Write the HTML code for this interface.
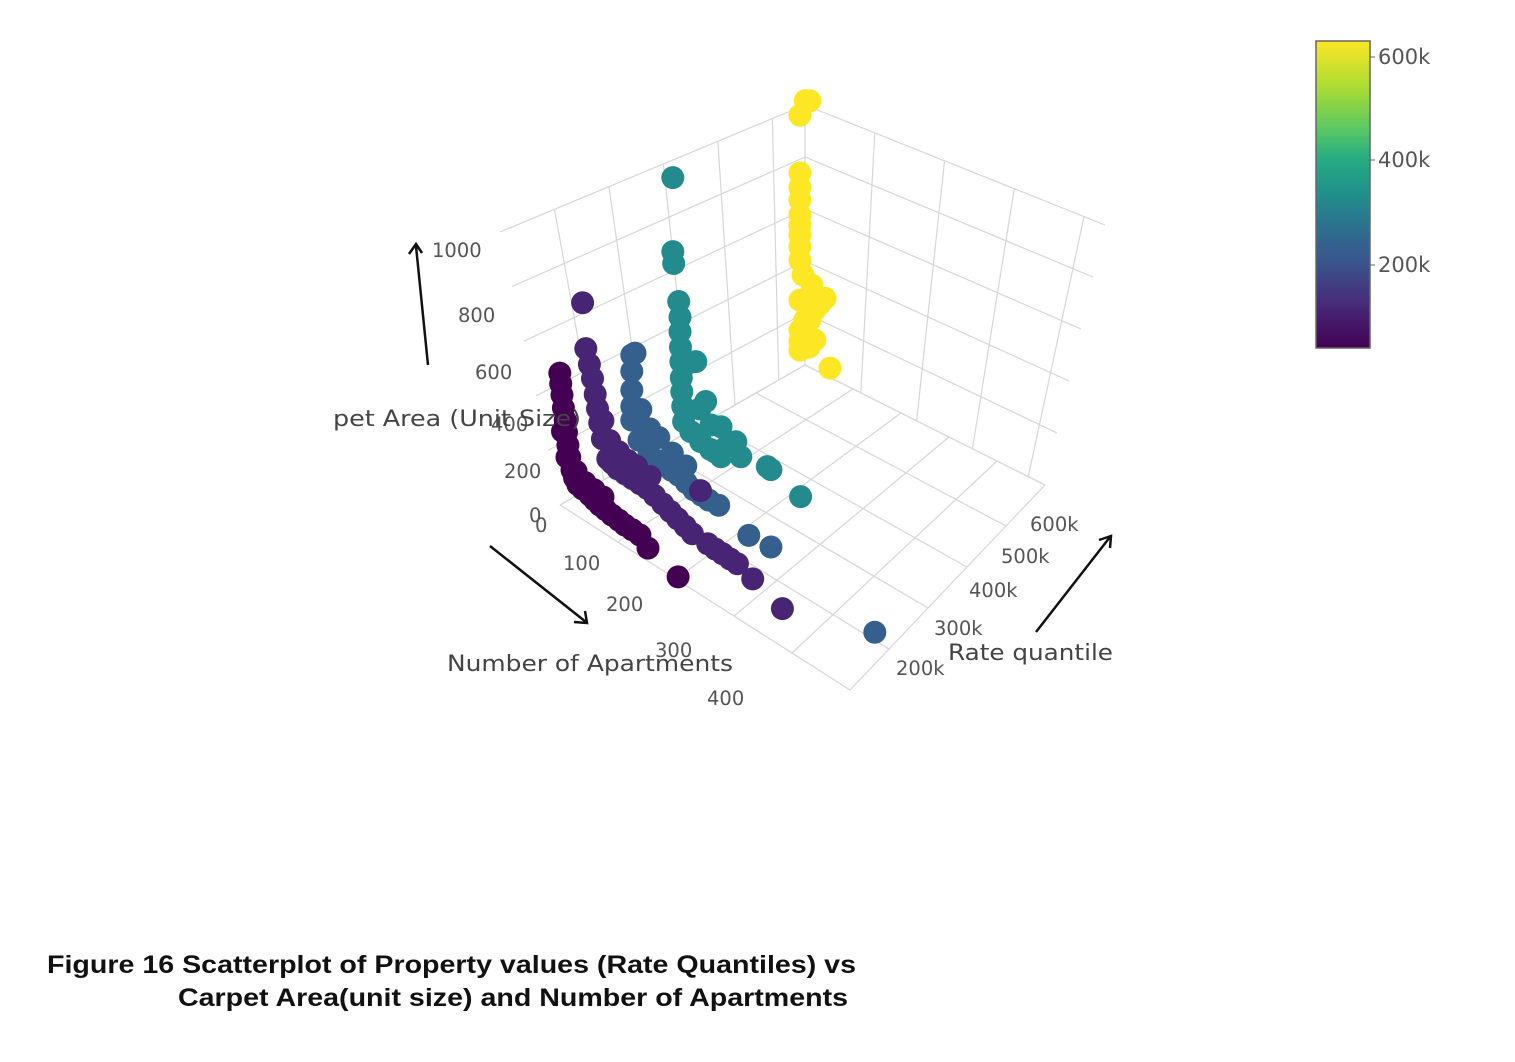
<!DOCTYPE html>
<html><head><meta charset="utf-8"><style>
html,body{margin:0;padding:0;background:#fff;}
svg{display:block;font-family:"DejaVu Sans","Liberation Sans",sans-serif;}
.cap{font-family:"Liberation Sans",sans-serif;font-weight:bold;font-size:25px;fill:#111;}
</style></head><body>
<svg id="chart" width="1515" height="1062" viewBox="0 0 1515 1062">
<g id="grid" stroke="#d6d6d6" stroke-width="1.2" fill="none"></g>
<g id="ticks" font-size="19.5" fill="#555">
<text x="432" y="257">1000</text>
<text x="458" y="322">800</text>
<text x="475" y="379">600</text>
<text x="491" y="431">400</text>
<text x="504" y="478">200</text>
<text x="529" y="522">0</text>
<text x="535" y="532">0</text>
<text x="563" y="570">100</text>
<text x="606" y="611">200</text>
<text x="655" y="657">300</text>
<text x="707" y="705">400</text>
<text x="896" y="675">200k</text>
<text x="934" y="635">300k</text>
<text x="969" y="597">400k</text>
<text x="1001" y="563">500k</text>
<text x="1030" y="531">600k</text>
</g>
<g id="marks"></g>
<g font-size="22" fill="#444">
<text x="333" y="426" textLength="248" lengthAdjust="spacingAndGlyphs">pet Area (Unit Size)</text>
<text x="447" y="671" textLength="286" lengthAdjust="spacingAndGlyphs">Number of Apartments</text>
<text x="948" y="660" textLength="165" lengthAdjust="spacingAndGlyphs">Rate quantile</text>
</g>
<g stroke="#111" stroke-width="2.5" fill="none">
<line x1="428" y1="365" x2="416" y2="246"/>
<polyline points="409,254 416,244 422,253"/>
<line x1="490" y1="546" x2="586" y2="622"/>
<polyline points="574,622 587,623 585,611"/>
<line x1="1036" y1="632" x2="1110" y2="537"/>
<polyline points="1099,540 1111,536 1110,548"/>
</g>
<defs><linearGradient id="vir" x1="0" y1="1" x2="0" y2="0">
<stop offset="0" stop-color="#440154"/><stop offset="0.15" stop-color="#472d7b"/><stop offset="0.27" stop-color="#3b528b"/><stop offset="0.4" stop-color="#2c728e"/><stop offset="0.5" stop-color="#21908c"/><stop offset="0.62" stop-color="#27ad81"/><stop offset="0.72" stop-color="#5ec962"/><stop offset="0.85" stop-color="#aadc32"/><stop offset="1" stop-color="#fde725"/>
</linearGradient></defs>
<g>
<rect x="1316" y="41" width="54" height="307" fill="url(#vir)" stroke="#666" stroke-width="1.5"/>
<g font-size="21" fill="#555">
<line x1="1370" y1="57" x2="1375" y2="57" stroke="#666"/><text x="1378" y="64">600k</text>
<line x1="1370" y1="160" x2="1375" y2="160" stroke="#666"/><text x="1378" y="167">400k</text>
<line x1="1370" y1="265" x2="1375" y2="265" stroke="#666"/><text x="1378" y="272">200k</text>
</g></g>
<text class="cap" x="47" y="973" textLength="809" lengthAdjust="spacingAndGlyphs">Figure 16 Scatterplot of Property values (Rate Quantiles) vs</text>
<text class="cap" x="178" y="1006" textLength="670" lengthAdjust="spacingAndGlyphs">Carpet Area(unit size) and Number of Apartments</text>
</svg>
<script>
// data: rate (k), number of apartments, carpet area
const ptRate = [
40,40,40,40,40,40,40,40,40,40,40,40,40,40,40,40,40,40,40,40,40,40,40,40,40,40,40,40,40,
100,100,100,100,100,100,100,100,100,100,100,100,100,100,100,100,100,100,100,100,100,100,100,100,100,100,100,100,100,100,100,100,100,100,100,
220,220,220,220,220,220,220,220,220,220,220,220,220,220,220,220,220,220,220,220,220,220,220,220,220,
320,320,320,320,320,320,320,320,320,320,320,320,320,320,320,320,320,320,320,320,320,320,320,320,320,320,320,320,320,320,
630,630,630,630,630,630,630,630,630,630,630,630,630,630,630,630,630,630,630,630,630,630,630,630,630];
const ptApt = [
4,6,9,12,16,19,22,26,31,37,44,55,71,82,93,106,120,135,149,165,182,200,267,10,20,40,60,80,100,
0,7,15,22,28,33,38,44,56,66,78,95,111,128,144,160,178,195,211,228,244,262,278,295,311,328,344,378,444,60,80,100,120,150,45,
0,7,0,0,0,0,16,38,55,71,88,104,121,138,155,171,193,260,309,540,20,40,60,90,120,
0,0,2,13,16,16,17,18,19,20,22,24,40,51,62,73,84,95,107,107,118,129,140,151,210,218,284,35,60,85,
22,12,0,0,0,0,0,0,0,0,0,7,27,56,45,33,22,0,11,0,33,0,0,67,20];
const ptArea = [
506,470,433,390,351,310,268,230,190,170,157,158,161,160,159,162,165,170,174,182,190,170,170,300,220,200,190,195,200,
715,556,510,469,420,375,330,281,226,225,224,232,240,248,256,255,253,252,251,250,248,436,265,272,280,288,296,294,289,300,290,290,300,310,350,
430,448,370,300,240,189,140,120,128,135,143,151,150,150,158,165,181,176,211,263,260,220,220,210,210,
1011,737,696,573,520,466,410,358,300,250,200,146,134,411,132,298,138,145,148,259,200,209,256,218,275,277,282,380,250,230,
1095,1080,1007,793,740,693,637,600,563,520,470,426,420,418,380,338,283,322,266,211,227,137,170,177,180];
const cMin = 42, cMax = 629;
const viridis = ["#440154","#482475","#414487","#355f8d","#2a788e","#21918c","#22a884","#44bf70","#7ad151","#bddf26","#fde725"];

const NS = "http://www.w3.org/2000/svg";
function hex(c){return [parseInt(c.slice(1,3),16),parseInt(c.slice(3,5),16),parseInt(c.slice(5,7),16)];}
function colorOf(r){
  let t=(r-cMin)/(cMax-cMin); t=Math.max(0,Math.min(1,t));
  const f=t*(viridis.length-1), i=Math.min(viridis.length-2,Math.floor(f)), u=f-i;
  const a=hex(viridis[i]), b=hex(viridis[i+1]);
  return "rgb("+a.map((v,k)=>Math.round(v+(b[k]-v)*u)).join(",")+")";
}
function projX(apt, rate, area){ return 541.6 + 0.45*apt + 0.41*rate; }
function projY(apt, rate, area){ return 516.2 + 0.43*apt - 0.205*rate - 0.27*area; }

const grid=document.getElementById('grid');
function L(x1,y1,x2,y2,name){
  const l=document.createElementNS(NS,'line');
  l.setAttribute('x1',x1);l.setAttribute('y1',y1);l.setAttribute('x2',x2);l.setAttribute('y2',y2);
  
  
  grid.appendChild(l);
}
function lerp(p,q,t){return [p[0]+(q[0]-p[0])*t,p[1]+(q[1]-p[1])*t];}
const F00=[560,505],F0R=[805,365],FA0=[850,690],FAR=[1045,485];
for(let i=0;i<=5;i++){const t=i/5;const a=lerp(F00,F0R,t),b=lerp(FA0,FAR,t);L(a[0],a[1],b[0],b[1],'floor-grid-line');}
for(let i=0;i<=5;i++){const t=i/5;const a=lerp(F00,FA0,t),b=lerp(F0R,FAR,t);L(a[0],a[1],b[0],b[1],'floor-grid-line');}
const LT0=[500,232],LTR=[805,105];
for(let i=0;i<=5;i++){const t=i/5;const a=lerp(F00,LT0,t),b=lerp(F0R,LTR,t);L(a[0],a[1],b[0],b[1],'left-wall-grid-line');}
for(let i=1;i<=5;i++){const t=i/5.6;const a=lerp(F00,F0R,t),b=lerp(LT0,LTR,t);L(a[0],a[1],b[0],b[1],'left-wall-grid-line');}
const RT=[1105,225];
for(let i=0;i<=5;i++){const t=i/5;const a=lerp(F0R,LTR,t),b=lerp(FAR,RT,t);L(a[0],a[1],b[0],b[1],'right-wall-grid-line');}
for(let i=1;i<=4;i++){const t=i/4.3;const a=lerp(F0R,FAR,t),b=lerp(LTR,RT,t);L(a[0],a[1],b[0],b[1],'right-wall-grid-line');}
L(805,95,805,365,'corner-axis-line');

const marks=document.getElementById('marks');
const idx=ptRate.map((_,i)=>i).sort((a,b)=>(ptRate[b]-ptRate[a])||(ptApt[a]-ptApt[b]));
idx.forEach(i=>{
  const c=document.createElementNS(NS,'circle');
  c.setAttribute('cx',projX(ptApt[i],ptRate[i],ptArea[i]).toFixed(1));
  c.setAttribute('cy',projY(ptApt[i],ptRate[i],ptArea[i]).toFixed(1));
  c.setAttribute('r',11.5);
  c.setAttribute('fill',colorOf(ptRate[i]));
  
  
  marks.appendChild(c);
});
</script>
</body></html>
